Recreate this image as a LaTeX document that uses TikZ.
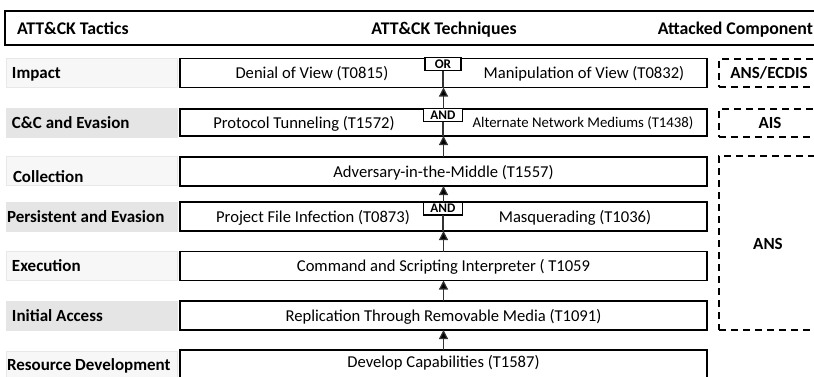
\documentclass[tikz,border=0pt]{standalone}
\usepackage{fontspec}
\setmainfont{Carlito}
\usetikzlibrary{arrows.meta}
\begin{document}
\begin{tikzpicture}[x=1pt,y=-1pt,
  every node/.style={inner sep=0pt, outer sep=0pt},
  tech/.style={draw, line width=1.6pt, minimum width=527pt, minimum height=29pt},
  ttext/.style={anchor=base, font=\fontsize{16.6}{18}\selectfont},
  tacbox/.style={line width=0.8pt, minimum width=171pt, minimum height=29pt},
  taclight/.style={tacbox, fill=gray!6, draw=gray!18},
  tacdark/.style={tacbox, fill=gray!20, draw=gray!20},
  tactext/.style={anchor=base west, font=\bfseries\fontsize{17}{18}\selectfont},
  headtext/.style={font=\bfseries\fontsize{17.8}{19}\selectfont},
  gate/.style={draw, fill=white, line width=1.2pt, minimum height=13pt, anchor=north,
    font=\bfseries\fontsize{13.2}{13}\selectfont},
  comp/.style={draw, dash pattern=on 7pt off 5pt, line width=1.6pt, anchor=north west, minimum width=111pt},
  comptext/.style={anchor=base, font=\bfseries\fontsize{17}{18}\selectfont},
  arr/.style={line width=1.2pt, draw=black!80, -{Triangle[width=9pt,length=9pt,fill=black]}},
  stem/.style={line width=1.2pt, draw=black!80}
]
\useasboundingbox (0,0) rectangle (814,376);

% header
\node[draw, line width=1.2pt, anchor=north west, minimum width=830pt, minimum height=34pt] (header) at (5,11) {};
\node[headtext, anchor=base west] (hTac) at (17,34) {ATT\&CK Tactics};
\node[headtext, anchor=base] (hTech) at (444,34) {ATT\&CK Techniques};
\node[headtext, anchor=base east] (hComp) at (813,34) {Attacked Component};

% tactic boxes
\node[taclight] (bImp) at (91.5,72.5) {};
\node[tacdark]  (bCC)  at (91.5,122.5) {};
\node[taclight] (bCol) at (91.5,171) {};
\node[tacdark]  (bPer) at (91.5,216.5) {};
\node[taclight] (bExe) at (91.5,266) {};
\node[tacdark]  (bIni) at (91.5,315.5) {};
\node[taclight, minimum height=30pt, anchor=north] (bRes) at (91.5,351) {};

\node[tactext] (lImp) at (12,78) {Impact};
\node[tactext] (lCC)  at (12,128) {C\&C and Evasion};
\node[tactext] (lCol) at (13,182.5) {Collection};
\node[tactext] (lPer) at (7,222) {Persistent and Evasion};
\node[tactext] (lExe) at (12,271) {Execution};
\node[tactext] (lIni) at (12,321) {Initial Access};
\node[tactext] (lRes) at (7,370.5) {Resource Development};

% technique boxes
\node[tech] (rImp) at (443.5,73) {};
\node[tech, minimum height=27pt] (rCC) at (443.5,122.5) {};
\node[tech] (rCol) at (443.5,171.5) {};
\node[tech] (rPer) at (443.5,216.5) {};
\node[tech] (rExe) at (443.5,266) {};
\node[tech] (rIni) at (443.5,315.5) {};
\node[tech, minimum height=32pt, anchor=north] (rRes) at (443.5,350) {};

\node[ttext] (tDen) at (312,78.5) {Denial of View (T0815)};
\node[ttext] (tMan) at (584,78.5) {Manipulation of View (T0832)};
\node[ttext] (tPro) at (304,128) {Protocol Tunneling (T1572)};
\node[ttext, font=\fontsize{14.8}{16}\selectfont] (tAlt) at (583,127.5) {Alternate Network Mediums (T1438)};
\node[ttext] (tAdv) at (443.5,177) {Adversary-in-the-Middle (T1557)};
\node[ttext] (tPrj) at (313,222) {Project File Infection (T0873)};
\node[ttext] (tMas) at (575,222) {Masquerading (T1036)};
\node[ttext] (tCmd) at (443.5,271.5) {Command and Scripting Interpreter ( T1059};
\node[ttext] (tRep) at (443.5,321) {Replication Through Removable Media (T1091)};
\node[ttext] (tDev) at (443.5,367) {Develop Capabilities (T1587)};

% gates
\node[gate, minimum width=36pt] (gOR)  at (443,57.5) {OR};
\node[gate, minimum width=39pt] (gAND1) at (443,108.5) {AND};
\node[gate, minimum width=39pt] (gAND2) at (443,202) {AND};

% connectors
\draw[stem] (gOR.south) -- (gOR.south |- rImp.south);
\draw[stem] (gAND1.south) -- (gAND1.south |- rCC.south);
\draw[stem] (gAND2.south) -- (gAND2.south |- rPer.south);
\draw[arr] (rCC.north) -- (rImp.south);
\draw[arr] (rCol.north) -- (rCC.south);
\draw[arr] (rPer.north) -- (rCol.south);
\draw[arr] (rExe.north) -- (rPer.south);
\draw[arr] (rIni.north) -- (rExe.south);
\draw[arr] (rRes.north) -- (rIni.south);

% attacked components
\node[comp, minimum height=28pt] (cImp) at (719,59) {};
\node[comp, minimum height=28pt] (cCC) at (719,109) {};
\node[comp, minimum height=174pt] (cANS) at (719,156) {};
\node[comptext] (kImp) at (769,78.5) {ANS/ECDIS};
\node[comptext] (kCC) at (770,128) {AIS};
\node[comptext] (kANS) at (768,249) {ANS};
\end{tikzpicture}
\end{document}
